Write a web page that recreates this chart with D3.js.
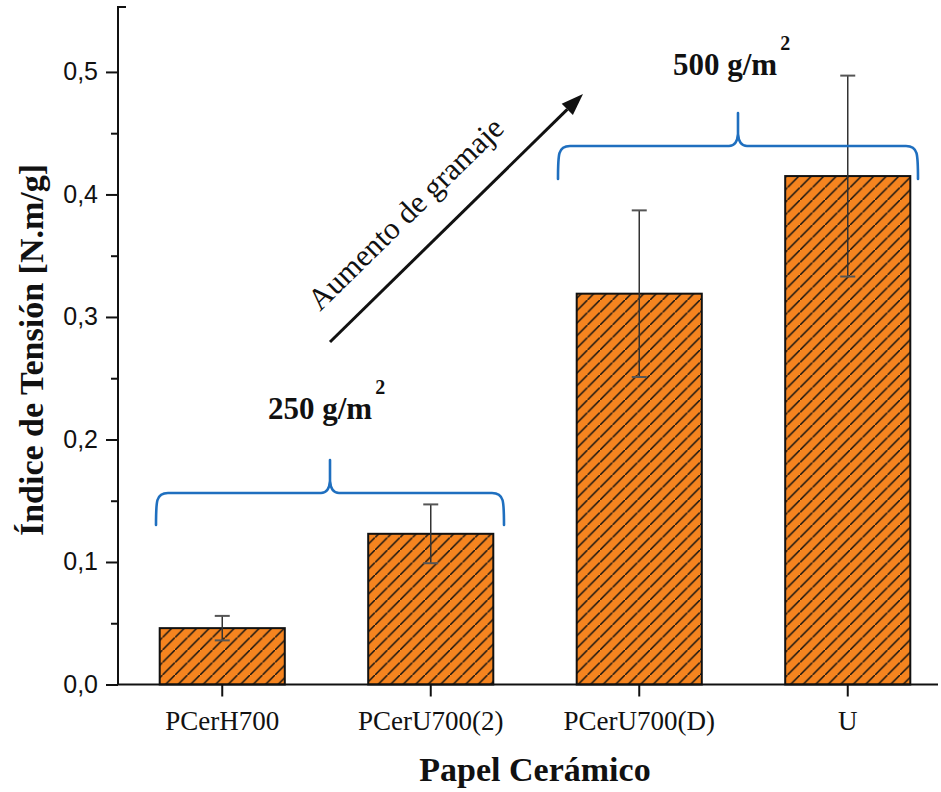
<!DOCTYPE html>
<html>
<head>
<meta charset="utf-8">
<script src="https://cdn.jsdelivr.net/npm/d3@7"></script>
<style>
  html, body { margin: 0; padding: 0; background: #fff; }
  svg { display: block; }
</style>
</head>
<body>
<script>
// Tensile index of ceramic papers, grouped by basis weight
const categories = ["PCerH700", "PCerU700(2)", "PCerU700(D)", "U"];
const values = [0.046, 0.123, 0.319, 0.415];
const errors = [0.010, 0.024, 0.068, 0.082];
const yTicks = [0, 0.1, 0.2, 0.3, 0.4, 0.5];
const yMinorTicks = [0.05, 0.15, 0.25, 0.35, 0.45];
const groupLabels = ["250 g/m", "500 g/m"];
const arrowLabel = "Aumento de gramaje";
const xTitle = "Papel Cerámico";
const yTitle = "Índice de Tensión [N.m/g]";

const W = 941, H = 792;
const plotLeft = 118, plotRight = 938, plotBottom = 684.5, plotTop = 7;

const svg = d3.select("body").append("svg")
  .attr("width", W).attr("height", H)
  .attr("viewBox", `0 0 ${W} ${H}`);
svg.append("rect").attr("width", W).attr("height", H).attr("fill", "#fff");

const x = d3.scaleBand().domain(categories)
  .range([plotLeft, 952]).paddingInner(0.4).paddingOuter(0.2);
const y = d3.scaleLinear().domain([0, 0.553]).range([plotBottom, plotTop]);

// diagonal hatch for the bars
const defs = svg.append("defs");
const pat = defs.append("pattern")
  .attr("id", "hatch").attr("patternUnits", "userSpaceOnUse")
  .attr("width", 12.5).attr("height", 12.5);
pat.append("rect").attr("width", 12.5).attr("height", 12.5).attr("fill", "#F5841F");
pat.append("path")
  .attr("d", "M-1,13.5 L13.5,-1 M-4,3 L3,-4 M9.5,16.5 L16.5,9.5")
  .attr("stroke", "#111").attr("stroke-width", 1.5);

const data = categories.map((c, i) => ({ c, v: values[i], e: errors[i] }));

// bars
svg.append("g").selectAll("rect").data(data).join("rect")
  .attr("x", d => x(d.c))
  .attr("y", d => y(d.v))
  .attr("width", x.bandwidth())
  .attr("height", d => y(0) - y(d.v))
  .attr("fill", "url(#hatch)")
  .attr("stroke", "#111").attr("stroke-width", 2);

// error bars
const eg = svg.append("g");
data.forEach(d => {
  const cx = x(d.c) + x.bandwidth() / 2;
  eg.append("line").attr("x1", cx).attr("x2", cx)
    .attr("y1", y(d.v + d.e)).attr("y2", y(d.v - d.e))
    .attr("stroke", "#333").attr("stroke-width", 1.5);
  [d.v + d.e, d.v - d.e].forEach(v => {
    eg.append("line").attr("x1", cx - 7.5).attr("x2", cx + 7.5)
      .attr("y1", y(v)).attr("y2", y(v))
      .attr("stroke", "#555").attr("stroke-width", 2);
  });
});

// y axis
const fmt = v => d3.format(".1f")(v).replace(".", ",");
const yAxis = svg.append("g").attr("transform", `translate(${plotLeft},0)`)
  .call(d3.axisLeft(y).tickValues(yTicks).tickFormat(fmt).tickSize(12).tickSizeOuter(0).tickPadding(8));
yAxis.select(".domain").remove();
yAxis.selectAll(".tick line").attr("stroke", "#111").attr("stroke-width", 2);
yAxis.selectAll(".tick text")
  .attr("font-family", "'Liberation Sans', Arial, sans-serif")
  .attr("font-size", 25).attr("fill", "#111");
svg.append("g").attr("transform", `translate(${plotLeft},0)`)
  .call(d3.axisLeft(y).tickValues(yMinorTicks).tickFormat("").tickSize(7).tickSizeOuter(0))
  .call(g => g.select(".domain").remove())
  .selectAll(".tick line").attr("stroke", "#111").attr("stroke-width", 2);
svg.append("path")
  .attr("d", `M${plotLeft + 8},${plotTop} H${plotLeft} V${plotBottom}`)
  .attr("fill", "none").attr("stroke", "#111").attr("stroke-width", 2);

// x axis
const xAxis = svg.append("g").attr("transform", `translate(0,${plotBottom})`)
  .call(d3.axisBottom(x).tickSize(12).tickSizeOuter(0).tickPadding(14));
xAxis.select(".domain").remove();
xAxis.selectAll(".tick line").attr("stroke", "#111").attr("stroke-width", 2);
xAxis.selectAll(".tick text")
  .attr("font-family", "'Liberation Serif', 'Times New Roman', serif")
  .attr("font-size", 27).attr("fill", "#111");
svg.append("line").attr("x1", plotLeft - 1).attr("x2", plotRight)
  .attr("y1", plotBottom).attr("y2", plotBottom)
  .attr("stroke", "#111").attr("stroke-width", 2);

// axis titles
svg.append("text").attr("x", 535).attr("y", 781)
  .attr("text-anchor", "middle")
  .attr("font-family", "'Liberation Serif', 'Times New Roman', serif")
  .attr("font-weight", "bold").attr("font-size", 34).attr("fill", "#111")
  .text(xTitle);
svg.append("text").attr("transform", "translate(43,350) rotate(-90)")
  .attr("text-anchor", "middle")
  .attr("font-family", "'Liberation Serif', 'Times New Roman', serif")
  .attr("font-weight", "bold").attr("font-size", 34).attr("fill", "#111")
  .text(yTitle);

// group braces
const braceColor = "#1f6fbf";
function brace(x0, x1, yLine, yTip, yEnd) {
  const xm = (x0 + x1) / 2;
  const p = d3.path();
  p.moveTo(x0, yEnd);
  p.bezierCurveTo(x0, yLine + 8, x0, yLine, x0 + 12, yLine);
  p.lineTo(xm - 9, yLine);
  p.quadraticCurveTo(xm - 1, yLine, xm, yLine - 12);
  p.lineTo(xm, yTip);
  p.moveTo(xm, yLine - 12);
  p.quadraticCurveTo(xm + 1, yLine, xm + 9, yLine);
  p.lineTo(x1 - 12, yLine);
  p.bezierCurveTo(x1, yLine, x1, yLine + 8, x1, yEnd);
  svg.append("path").attr("d", p.toString())
    .attr("fill", "none").attr("stroke", braceColor)
    .attr("stroke-width", 2.6).attr("stroke-linecap", "round");
}
brace(156, 504, 493, 460, 525);
brace(558, 918, 146, 113, 179);

// group labels with superscript
function groupLabel(txt, x0, yb) {
  const t = svg.append("text").attr("x", x0).attr("y", yb)
    .attr("font-family", "'Liberation Serif', 'Times New Roman', serif")
    .attr("font-weight", "bold").attr("font-size", 31).attr("fill", "#111")
    .text(txt);
  const w = t.node().getComputedTextLength();
  svg.append("text").attr("x", x0 + w + 3).attr("y", yb - 25)
    .attr("font-family", "'Liberation Serif', 'Times New Roman', serif")
    .attr("font-weight", "bold").attr("font-size", 20).attr("fill", "#111")
    .text("2");
}
groupLabel(groupLabels[0], 268, 419);
groupLabel(groupLabels[1], 673, 75);

// arrow showing increasing basis weight
const ax0 = 330, ay0 = 342, ax1 = 583, ay1 = 94;
const ang = Math.atan2(ay1 - ay0, ax1 - ax0);
const headLen = 22, headW = 8;
const bx = ax1 - headLen * Math.cos(ang), by = ay1 - headLen * Math.sin(ang);
svg.append("line").attr("x1", ax0).attr("y1", ay0).attr("x2", bx).attr("y2", by)
  .attr("stroke", "#111").attr("stroke-width", 3);
svg.append("path")
  .attr("d", `M${ax1},${ay1} L${bx + headW * Math.sin(ang)},${by - headW * Math.cos(ang)} L${bx - headW * Math.sin(ang)},${by + headW * Math.cos(ang)} Z`)
  .attr("fill", "#111");
svg.append("text")
  .attr("transform", `translate(320,312) rotate(${ang * 180 / Math.PI})`)
  .attr("font-family", "'Liberation Serif', 'Times New Roman', serif")
  .attr("font-size", 31).attr("fill", "#111")
  .text(arrowLabel);
</script>
</body>
</html>
